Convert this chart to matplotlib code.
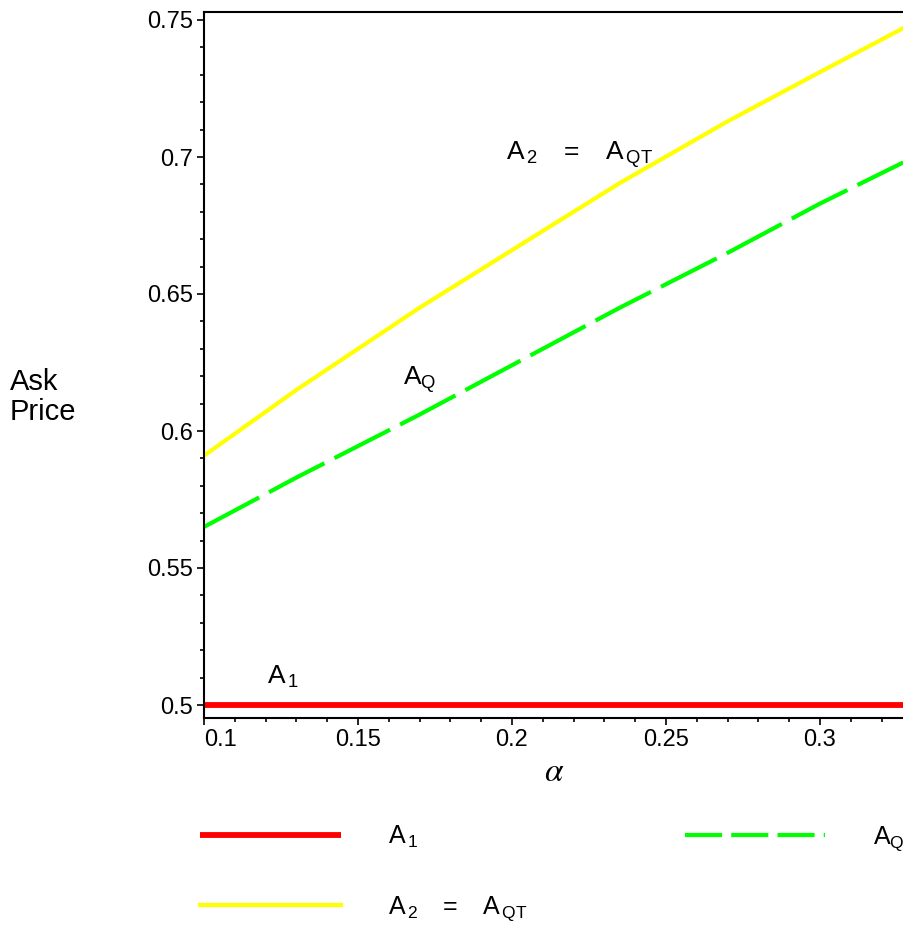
import matplotlib
matplotlib.use("Agg")
import matplotlib.pyplot as plt
from matplotlib.lines import Line2D
from matplotlib.ticker import MultipleLocator, FixedLocator, FixedFormatter

plt.rcParams['font.family'] = ['Liberation Sans', 'DejaVu Sans']
plt.rcParams['mathtext.fontset'] = 'custom'
plt.rcParams['mathtext.rm'] = 'Liberation Sans'
plt.rcParams['mathtext.it'] = 'Liberation Sans'

# data
alpha = [0.100, 0.130, 0.170, 0.200, 0.235, 0.270, 0.300, 0.327]
A2_AQT = [0.591, 0.615, 0.645, 0.666, 0.6905, 0.713, 0.731, 0.747]
AQ = [0.565, 0.583, 0.606, 0.624, 0.645, 0.665, 0.683, 0.698]
A1 = [0.5] * len(alpha)

xticks = [0.1, 0.15, 0.2, 0.25, 0.3]
xtick_labels = ['0.1', '0.15', '0.2', '0.25', '0.3']
yticks = [0.5, 0.55, 0.6, 0.65, 0.7, 0.75]
ytick_labels = ['0.5', '0.55', '0.6', '0.65', '0.7', '0.75']

lab_A1 = r'$\mathregular{A_{\,1}}$'
lab_A2 = r'$\mathregular{A_{\,2}\ \ =\ \ A_{\,QT}}$'
lab_AQ = r'$\mathregular{A_{Q}}$'

W, H = 904, 926
fig = plt.figure(figsize=(W / 100, H / 100), dpi=100)
ax = fig.add_axes([204 / W, 1 - 718 / H, (W - 204) / W, (718 - 12) / H])

l1, = ax.plot(alpha, A1, color='#ff0000', lw=4.2, label=lab_A1, solid_capstyle='butt')
l2, = ax.plot(alpha, A2_AQT, color='#ffff00', lw=3.0, label=lab_A2)
ax.plot(alpha, AQ, color='#00ff00', lw=3.0, dashes=(15, 2.7), label=lab_AQ)
l3 = Line2D([], [], color='#00ff00', lw=3.0, dashes=(8.9, 2.2), label=lab_AQ)

ax.set_xlim(0.1, 0.1 + (W - 204) / 3080)
ax.set_ylim(0.5 - 13 / 2740, 0.75 + 8 / 2740)

ax.xaxis.set_major_locator(FixedLocator(xticks))
ax.xaxis.set_major_formatter(FixedFormatter(xtick_labels))
ax.yaxis.set_major_locator(FixedLocator(yticks))
ax.yaxis.set_major_formatter(FixedFormatter(ytick_labels))
ax.xaxis.set_minor_locator(MultipleLocator(0.01))
ax.yaxis.set_minor_locator(MultipleLocator(0.01))
ax.tick_params(axis='both', which='major', length=5, width=1.2, labelsize=17, direction='out', pad=3)
ax.tick_params(axis='both', which='minor', length=3, width=1.2, direction='out')
ax.get_xticklabels()[0].set_horizontalalignment('left')
ax.spines['right'].set_visible(False)
for s in ['left', 'bottom', 'top']:
    ax.spines[s].set_linewidth(1.5)

# axis labels
ax.set_xlabel(r'$\alpha$', fontsize=24, labelpad=4)
ax.xaxis.label.set_math_fontfamily('stix')
fig.text(10 / W, 1 - 397 / H, 'Ask\nPrice', fontsize=21, ha='left', va='center', linespacing=1.1)

# in-plot annotations
ax.text(0.198, 0.699, r'$\mathregular{A_{\,2}\ \ \ =\ \ \ A_{\,QT}}$', fontsize=19, ha='left', va='baseline')
ax.text(0.1646, 0.6168, lab_AQ, fontsize=19, ha='left', va='baseline')
ax.text(0.1205, 0.5077, lab_A1, fontsize=19, ha='left', va='baseline')

fig.legend(handles=[l1, l2, l3], labels=[lab_A1, r'$\mathregular{A_{\,2}\ \ \ =\ \ \ A_{\,QT}}$', lab_AQ],
           ncol=2, loc='upper left',
           bbox_to_anchor=(178 / W, 1 - 801 / H), frameon=False, fontsize=18,
           handlelength=5.6, handletextpad=1.9, columnspacing=6.3, labelspacing=1.8)

fig.savefig('out.png', dpi=100)
